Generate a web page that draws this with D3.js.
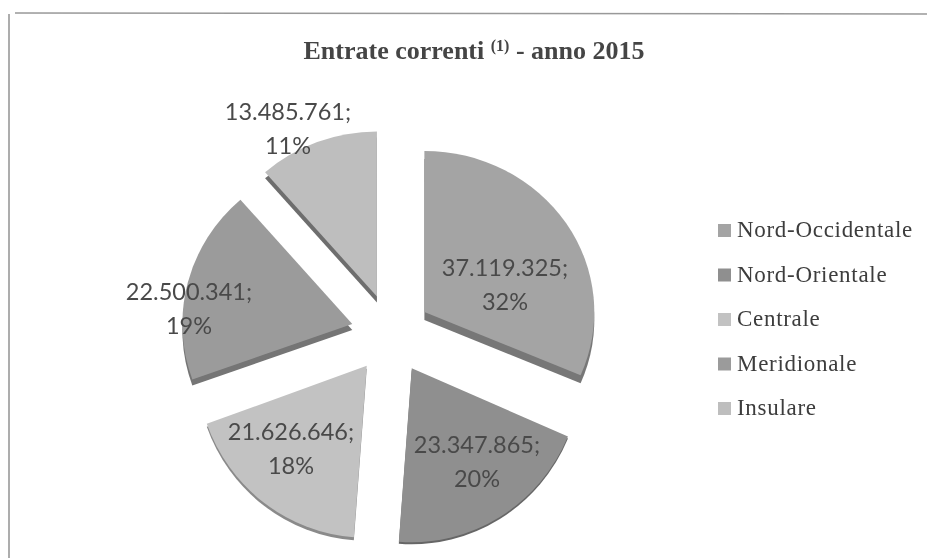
<!DOCTYPE html>
<html>
<head>
<meta charset="utf-8">
<script src="https://cdn.jsdelivr.net/npm/d3@7"></script>
<style>
  html, body { margin: 0; padding: 0; background: #fff; }
  svg { display: block; }
</style>
</head>
<body>
<svg width="927" height="558"></svg>
<script>
var width = 927, height = 558;

var categories = ["Nord-Occidentale", "Nord-Orientale", "Centrale", "Meridionale", "Insulare"];
var values = [37119325, 23347865, 21626646, 22500341, 13485761];
var valueLabels = ["37.119.325;", "23.347.865;", "21.626.646;", "22.500.341;", "13.485.761;"];
var percentLabels = ["32%", "20%", "18%", "19%", "11%"];
var colors = ["#a4a4a4", "#8f8f8f", "#c2c2c2", "#9b9b9b", "#bebebe"];
var sideColors = ["#777", "#666", "#8a8a8a", "#747474", "#6e6e6e"];

// the pie is drawn tilted, so each slice has its own height and wall
var sliceRy = [161, 174, 172, 165, 165];
var sliceDepth = [8, 2, 3, 6, 6];
var labelX = [505, 477, 291, 189, 288];
var labelY = [268, 445, 432, 292, 112];

var cx = 391, cy = 334, explode = 40, rx = 170;

var svg = d3.select("svg");

svg.append("defs").append("filter")
    .attr("id", "scan")
    .append("feGaussianBlur")
    .attr("stdDeviation", 0.45);

var root = svg.append("g").attr("filter", "url(#scan)");

// frame of the scanned chart
root.append("path")
    .attr("d", "M9,558 L9,14 M15,13 L927,14")
    .attr("fill", "none")
    .attr("stroke", "#999")
    .attr("stroke-width", 1.6);

root.append("text")
    .attr("x", 474)
    .attr("y", 59)
    .attr("text-anchor", "middle")
    .attr("font-family", "Liberation Serif")
    .attr("font-weight", "bold")
    .attr("font-size", 26)
    .attr("fill", "#444")
    .html('Entrate correnti <tspan dy="-8" font-size="16">(1)</tspan><tspan dy="8"> - anno 2015</tspan>');

var pie = d3.pie().sort(null);
var arcs = pie(values);
var arc = d3.arc().innerRadius(0).outerRadius(1);

var slices = root.selectAll("g.slice")
    .data(arcs)
    .enter().append("g")
    .attr("class", "slice")
    .attr("transform", function (d) {
        var mid = (d.startAngle + d.endAngle) / 2;
        return "translate(" + (cx + Math.sin(mid) * explode) + "," + (cy - Math.cos(mid) * explode) + ")";
    });

// side wall, then top face
slices.append("path")
    .attr("transform", function (d, i) { return "translate(0," + sliceDepth[i] + ") scale(" + rx + "," + sliceRy[i] + ")"; })
    .attr("d", arc)
    .attr("fill", function (d, i) { return sideColors[i]; });

slices.append("path")
    .attr("transform", function (d, i) { return "scale(" + rx + "," + sliceRy[i] + ")"; })
    .attr("d", arc)
    .attr("fill", function (d, i) { return colors[i]; });

// labels go on top of all slices
var labels = root.selectAll("text.label")
    .data(values)
    .enter().append("text")
    .attr("class", "label")
    .attr("text-anchor", "middle")
    .attr("font-family", "Lato")
    .attr("font-size", 23.5)
    .attr("fill", "#4a4a4a");

labels.append("tspan")
    .attr("x", function (d, i) { return labelX[i]; })
    .attr("y", function (d, i) { return labelY[i] + 8; })
    .text(function (d, i) { return valueLabels[i]; });

labels.append("tspan")
    .attr("x", function (d, i) { return labelX[i]; })
    .attr("y", function (d, i) { return labelY[i] + 42; })
    .text(function (d, i) { return percentLabels[i]; });

var legend = root.selectAll("g.legend")
    .data(categories)
    .enter().append("g")
    .attr("class", "legend")
    .attr("transform", function (d, i) { return "translate(718," + (237 + i * 44.5) + ")"; });

legend.append("rect")
    .attr("x", 0).attr("y", -13)
    .attr("width", 13).attr("height", 13)
    .attr("fill", function (d, i) { return colors[i]; });

legend.append("text")
    .attr("x", 19).attr("y", 0)
    .attr("font-family", "Liberation Serif")
    .attr("font-size", 23)
    .attr("letter-spacing", 0.7)
    .attr("fill", "#3c3c3c")
    .text(function (d) { return d; });
</script>
</body>
</html>
